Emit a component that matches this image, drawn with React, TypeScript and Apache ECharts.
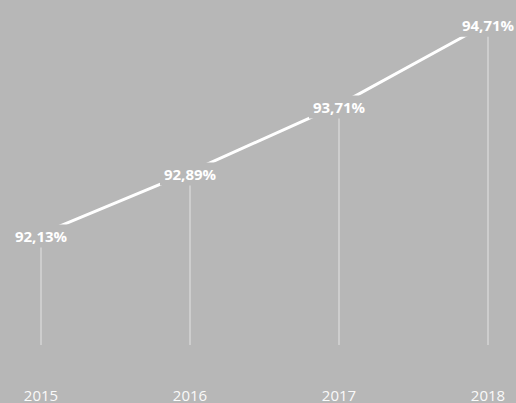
import React, { useEffect, useRef } from "react";
import * as echarts from "echarts";

const years = ["2015", "2016", "2017", "2018"];
const rates = [92.13, 92.89, 93.71, 94.71];

const BG = "#b7b7b7";

export default function App() {
  const ref = useRef<HTMLDivElement>(null);
  useEffect(() => {
    if (!ref.current) return;
    const chart = echarts.init(ref.current, undefined, { renderer: "svg" });
    chart.setOption({
      animation: false,
      backgroundColor: BG,
      grid: { left: 41, right: 28, top: 20, bottom: 58 },
      xAxis: {
        type: "category",
        data: years,
        boundaryGap: false,
        axisLine: { show: false },
        axisTick: { show: false },
        axisLabel: {
          margin: 42,
          color: "#fafafa",
          fontSize: 15,
          fontFamily: "Open Sans",
        },
      },
      yAxis: {
        type: "value",
        min: 90.77,
        max: 94.75,
        show: false,
        splitLine: { show: false },
      },
      series: [
        {
          type: "bar",
          data: rates,
          barWidth: 1.5,
          z: 1,
          itemStyle: { color: "#d4d4d4" },
          silent: true,
        },
        {
          type: "line",
          data: rates,
          z: 3,
          symbol: "circle",
          symbolSize: 2,
          itemStyle: { color: "#ffffff" },
          lineStyle: { color: "#ffffff", width: 3 },
          label: {
            show: true,
            position: "inside",
            offset: [0, 2],
            color: "#ffffff",
            fontSize: 15,
            fontWeight: "bold",
            fontFamily: "Open Sans",
            backgroundColor: BG,
            padding: [4, 4],
            formatter: (p: any) => p.value.toFixed(2).replace(".", ",") + "%",
          },
        },
      ],
    });
    return () => chart.dispose();
  }, []);
  return (
    <div
      ref={ref}
      style={{ position: "fixed", left: 0, top: 0, width: 516, height: 403 }}
    />
  );
}
